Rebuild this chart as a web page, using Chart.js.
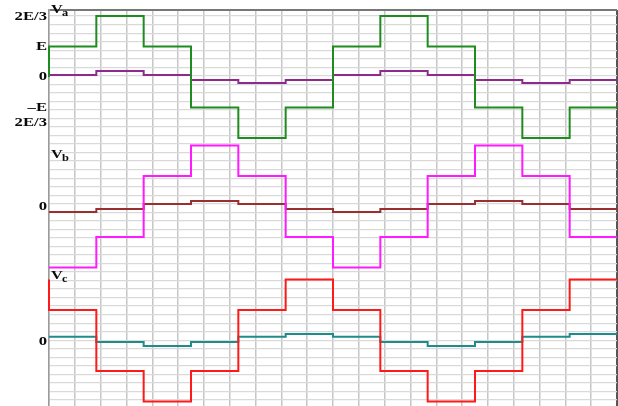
<!DOCTYPE html>
<html>
<head>
<meta charset="utf-8">
<script src="https://cdn.jsdelivr.net/npm/chart.js@4/dist/chart.umd.min.js"></script>
<style>
  html, body { margin: 0; padding: 0; background: #ffffff; }
  canvas { display: block; }
</style>
</head>
<body>
<canvas id="wave" width="618" height="406"></canvas>
<script>
// Six-step inverter phase voltages, two periods; x in electrical degrees
const stepAngles = [0, 60, 120, 180, 240, 300, 360, 420, 480, 540, 600, 660];
const endAngle = 720;

// Phase voltage level held during each 60° step (one unit = one voltage step)
const vaLevels = [1, 2, 1, -1, -2, -1, 1, 2, 1, -1, -2, -1];
const vbLevels = [-2, -1, 1, 2, 1, -1, -2, -1, 1, 2, 1, -1];
const vcLevels = [1, -1, -2, -1, 1, 2, 1, -1, -2, -1, 1, 2];
// value before the first edge at 0°
const vaStart = 0;
const vcStart = 2;

// Small companion waveform of each phase, per step
const vaSmall = [0.07, 0.2, 0.07, -0.1, -0.2, -0.1, 0.07, 0.2, 0.07, -0.1, -0.2, -0.1];
const vbSmall = [-0.18, -0.08, 0.08, 0.18, 0.08, -0.08, -0.18, -0.08, 0.08, 0.18, 0.08, -0.08];
const vcSmall = [0.12, -0.05, -0.18, -0.05, 0.12, 0.21, 0.12, -0.05, -0.18, -0.05, 0.12, 0.21];

// Level labels on the left edge
const yTickLabels = ['2E/3', 'E', '0', '\u2013E', '2E/3', '0', '0'];
const yTickPanels = [0, 0, 0, 0, 0, 1, 2];
const yTickLevels = [2, 1, 0, -1, -1.48, 0, -0.02];

// Phase names
const phaseNames = ['a', 'b', 'c'];

// ---- layout of the three stacked traces on one value axis ----
const Y_MAX = 13;
const panelBase = [10.8, 6.55, 2.15];
const SERIF = '"Liberation Serif", "DejaVu Serif", serif';

function stepPoints(levels, base, start) {
  const pts = [];
  if (start !== undefined) pts.push({ x: stepAngles[0], y: base + start });
  levels.forEach((v, i) => pts.push({ x: stepAngles[i], y: base + v }));
  pts.push({ x: endAngle, y: base + levels[levels.length - 1] });
  return pts;
}

function trace(data, color, width) {
  return {
    data, borderColor: color, backgroundColor: color, borderWidth: width,
    stepped: true, pointRadius: 0, fill: false, tension: 0, clip: false
  };
}

// Level labels and phase names, drawn slightly widened
const labelPlugin = {
  id: 'voltLabels',
  afterDraw(chart) {
    const ctx = chart.ctx;
    const ys = chart.scales.y;
    const area = chart.chartArea;
    ctx.save();
    ctx.fillStyle = '#0a0a0a';
    ctx.font = 'bold 11.5px ' + SERIF;
    ctx.textAlign = 'right';
    ctx.textBaseline = 'middle';
    yTickLabels.forEach((t, i) => {
      const py = ys.getPixelForValue(panelBase[yTickPanels[i]] + yTickLevels[i]);
      ctx.save();
      ctx.translate(area.left - 2, py + 0.5);
      ctx.scale(1.45, 1);
      ctx.fillText(t, 0, 0);
      ctx.restore();
    });

    const nameOffset = [2.1, 1.6, 2.02];
    ctx.textAlign = 'left';
    ctx.textBaseline = 'alphabetic';
    phaseNames.forEach((n, i) => {
      const py = ys.getPixelForValue(panelBase[i] + nameOffset[i]);
      ctx.save();
      ctx.translate(area.left + 2, py);
      ctx.scale(1.3, 1);
      ctx.font = 'bold 12.5px ' + SERIF;
      ctx.fillText('V', 0, 0);
      const w = ctx.measureText('V').width;
      ctx.font = 'bold 9.5px ' + SERIF;
      ctx.fillText(n, w - 0.5, 3);
      ctx.restore();
    });
    ctx.restore();
  }
};

const xGrid = [];
for (let i = 0; i <= 22; i++) xGrid.push(i * endAngle / 22);
const yGrid = [Y_MAX];
for (let k = 0; k <= 45; k++) yGrid.push(12.8 - 0.28 * k);

new Chart(document.getElementById('wave'), {
  type: 'line',
  data: {
    datasets: [
      trace(stepPoints(vaLevels, panelBase[0], vaStart), '#1e8c1e', 2),
      trace(stepPoints(vaSmall, panelBase[0]), '#8e2a8e', 2),
      trace(stepPoints(vbLevels, panelBase[1]), '#ff1aff', 2),
      trace(stepPoints(vbSmall, panelBase[1]), '#9a2f2f', 2),
      trace(stepPoints(vcLevels, panelBase[2], vcStart), '#ff1a1a', 2),
      trace(stepPoints(vcSmall, panelBase[2]), '#1f8c8c', 2)
    ]
  },
  options: {
    responsive: false,
    animation: false,
    devicePixelRatio: 1,
    layout: { padding: { top: 10, right: 1, bottom: 0, left: 0 } },
    plugins: { legend: { display: false }, tooltip: { enabled: false } },
    scales: {
      x: {
        type: 'linear', min: 0, max: endAngle,
        afterBuildTicks: s => { s.ticks = xGrid.map(v => ({ value: v })); },
        ticks: { display: false, autoSkip: false },
        grid: {
          drawTicks: false,
          color: c => (c.tick && c.tick.value === endAngle) ? '#555555' : '#c6c6c6',
          lineWidth: c => (c.tick && c.tick.value === endAngle) ? 2 : 1.5
        },
        border: { display: false }
      },
      y: {
        type: 'linear', min: 0, max: Y_MAX,
        afterBuildTicks: s => { s.ticks = yGrid.map(v => ({ value: v })); },
        afterFit: s => { s.width = 49; },
        ticks: { display: false, autoSkip: false },
        grid: {
          drawTicks: false,
          color: c => (c.tick && c.tick.value === Y_MAX) ? '#777777' : '#d9d9d9',
          lineWidth: c => (c.tick && c.tick.value === Y_MAX) ? 2 : 1.2
        },
        border: { display: true, color: '#9a9a9a', width: 1.5 }
      }
    }
  },
  plugins: [labelPlugin]
});
</script>
</body>
</html>
